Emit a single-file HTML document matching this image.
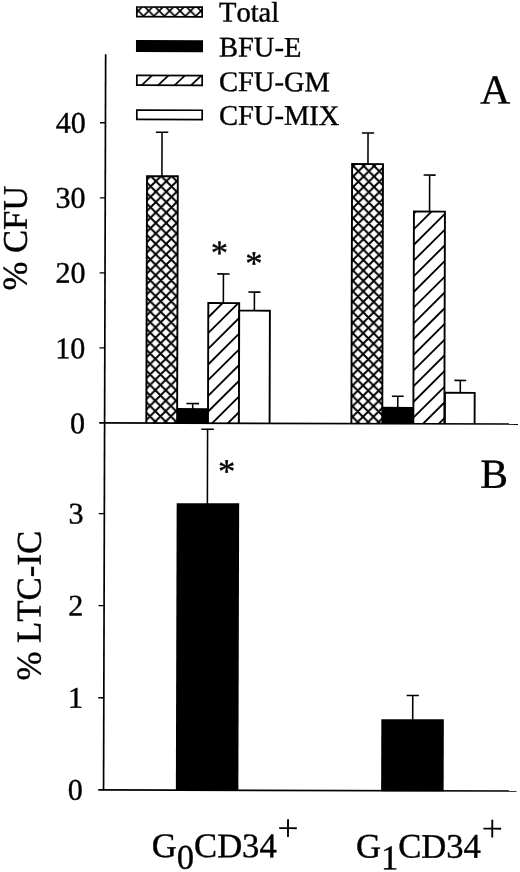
<!DOCTYPE html>
<html lang="en"><head><meta charset="utf-8"><title>CFU and LTC-IC chart</title>
<style>html,body{margin:0;padding:0;background:#fff;}body{width:520px;height:872px;overflow:hidden;}svg{display:block;}text{font-family:"Liberation Serif",serif;fill:#000;font-kerning:none;stroke:#000;stroke-width:0.4px;}</style>
</head><body>
<svg width="520" height="872" viewBox="0 0 520 872">
<rect width="520" height="872" fill="#fff"/>
<defs>
<pattern id="xh1" patternUnits="userSpaceOnUse" width="10.45" height="10.45" patternTransform="translate(155.19 181.04)"><rect width="10.45" height="10.45" fill="#fff"/><path d="M-1,-1 L11.45,11.45 M11.45,-1 L-1,11.45 M-11.45,-1 L1,11.45 M9.45,-1 L21.9,11.45 M-1,9.45 L11.45,21.9" stroke="#000" stroke-width="2.0" fill="none"/></pattern>
<pattern id="xh2" patternUnits="userSpaceOnUse" width="10.45" height="10.45" patternTransform="translate(362.94 165.25)"><rect width="10.45" height="10.45" fill="#fff"/><path d="M-1,-1 L11.45,11.45 M11.45,-1 L-1,11.45 M-11.45,-1 L1,11.45 M9.45,-1 L21.9,11.45 M-1,9.45 L11.45,21.9" stroke="#000" stroke-width="2.0" fill="none"/></pattern>
</defs>
<g transform="rotate(0.163 104.6 422.85)">
<path d="M161.22,175.84 V132.04 M155.02,132.04 H167.42" stroke="#000" stroke-width="1.55" fill="none"/>
<path d="M146.3,422.85 V176.09 H177.1 V422.85" fill="url(#xh1)" stroke="#000" stroke-width="1.9" stroke-linejoin="miter"/>
<path d="M192.65,408.75 V403.35 M186.35,403.35 H198.95" stroke="#000" stroke-width="1.55" fill="none"/>
<path d="M177.93,422.85 V408.8 H207.13 V422.85" fill="#000" stroke="#000" stroke-width="1.9" stroke-linejoin="miter"/>
<path d="M223.02,303.66 V273.56 M216.82,273.56 H229.22" stroke="#000" stroke-width="1.55" fill="none"/>
<path d="M207.97,422.85 V302.71 H238.87 V422.85" fill="#fff" stroke="#000" stroke-width="1.9" stroke-linejoin="miter"/>
<clipPath id="cg1"><rect x="207.82" y="302.56" width="31.2" height="120.29"/></clipPath><g clip-path="url(#cg1)" stroke="#000" stroke-width="1.85"><line x1="205.82" y1="303.46" x2="241.02" y2="268.26"/><line x1="205.82" y1="319.18" x2="241.02" y2="283.98"/><line x1="205.82" y1="334.9" x2="241.02" y2="299.7"/><line x1="205.82" y1="350.62" x2="241.02" y2="315.42"/><line x1="205.82" y1="366.34" x2="241.02" y2="331.14"/><line x1="205.82" y1="382.06" x2="241.02" y2="346.86"/><line x1="205.82" y1="397.78" x2="241.02" y2="362.58"/><line x1="205.82" y1="413.5" x2="241.02" y2="378.3"/><line x1="205.82" y1="429.22" x2="241.02" y2="394.02"/><line x1="205.82" y1="444.94" x2="241.02" y2="409.74"/><line x1="205.82" y1="460.66" x2="241.02" y2="425.46"/></g>
<path d="M254.05,310.57 V291.67 M247.95,291.67 H260.15" stroke="#000" stroke-width="1.55" fill="none"/>
<path d="M238.89,422.85 V310.22 H269.59 V422.85" fill="#fff" stroke="#000" stroke-width="1.9" stroke-linejoin="miter"/>
<path d="M367.22,163.75 V132.25 M361.12,132.25 H373.32" stroke="#000" stroke-width="1.55" fill="none"/>
<path d="M351.37,422.85 V163.3 H382.27 V422.85" fill="url(#xh2)" stroke="#000" stroke-width="1.9" stroke-linejoin="miter"/>
<path d="M397.73,407.16 V395.46 M391.83,395.46 H403.63" stroke="#000" stroke-width="1.55" fill="none"/>
<path d="M383.73,422.85 V407.01 H413.23 V422.85" fill="#000" stroke="#000" stroke-width="1.9" stroke-linejoin="miter"/>
<path d="M428.94,211.07 V174.17 M422.94,174.17 H434.94" stroke="#000" stroke-width="1.55" fill="none"/>
<path d="M413.34,422.85 V210.63 H444.34 V422.85" fill="#fff" stroke="#000" stroke-width="1.9" stroke-linejoin="miter"/>
<clipPath id="cg2"><rect x="413.19" y="210.48" width="31.3" height="212.37"/></clipPath><g clip-path="url(#cg2)" stroke="#000" stroke-width="1.85"><line x1="411.19" y1="214.6" x2="446.49" y2="179.3"/><line x1="411.19" y1="230.32" x2="446.49" y2="195.02"/><line x1="411.19" y1="246.04" x2="446.49" y2="210.74"/><line x1="411.19" y1="261.76" x2="446.49" y2="226.46"/><line x1="411.19" y1="277.48" x2="446.49" y2="242.18"/><line x1="411.19" y1="293.2" x2="446.49" y2="257.9"/><line x1="411.19" y1="308.92" x2="446.49" y2="273.62"/><line x1="411.19" y1="324.64" x2="446.49" y2="289.34"/><line x1="411.19" y1="340.36" x2="446.49" y2="305.06"/><line x1="411.19" y1="356.08" x2="446.49" y2="320.78"/><line x1="411.19" y1="371.8" x2="446.49" y2="336.5"/><line x1="411.19" y1="387.52" x2="446.49" y2="352.22"/><line x1="411.19" y1="403.24" x2="446.49" y2="367.94"/><line x1="411.19" y1="418.96" x2="446.49" y2="383.66"/><line x1="411.19" y1="434.68" x2="446.49" y2="399.38"/><line x1="411.19" y1="450.4" x2="446.49" y2="415.1"/></g>
<path d="M460.19,391.49 V379.39 M454.29,379.39 H466.09" stroke="#000" stroke-width="1.55" fill="none"/>
<path d="M444.9,422.85 V391.84 H474.6 V422.85" fill="#fff" stroke="#000" stroke-width="1.9" stroke-linejoin="miter"/>
<path d="M104.6,54.2 V790.6" stroke="#000" stroke-width="1.7" fill="none"/>
<path d="M99.2,422.85 H518" stroke="#000" stroke-width="1.7" fill="none"/>
<text x="85" y="433.35" font-size="30" text-anchor="end">0</text>
<path d="M99.2,347.83 H104.6" stroke="#000" stroke-width="1.3" fill="none"/>
<text x="85" y="358.33" font-size="30" text-anchor="end">10</text>
<path d="M99.2,272.81 H104.6" stroke="#000" stroke-width="1.3" fill="none"/>
<text x="85" y="282.91" font-size="30" text-anchor="end">20</text>
<path d="M99.2,197.79 H104.6" stroke="#000" stroke-width="1.3" fill="none"/>
<text x="85" y="207.89" font-size="30" text-anchor="end">30</text>
<path d="M99.2,122.77 H104.6" stroke="#000" stroke-width="1.3" fill="none"/>
<text x="85" y="132.87" font-size="30" text-anchor="end">40</text>
<path d="M207.61,503.71 V429.01 M201.31,429.01 H213.91" stroke="#000" stroke-width="1.55" fill="none"/>
<rect x="176.9" y="502.96" width="62.5" height="287.39" fill="#000"/>
<path d="M413.54,719.12 V694.62 M407.44,694.62 H419.64" stroke="#000" stroke-width="1.55" fill="none"/>
<rect x="382.18" y="718.37" width="62.5" height="71.98" fill="#000"/>
<path d="M99.25,789.85 H517.55" stroke="#000" stroke-width="1.7" fill="none"/>
<text x="83.9" y="799.85" font-size="30" text-anchor="end">0</text>
<path d="M99,697.75 H104.6" stroke="#000" stroke-width="1.3" fill="none"/>
<text x="83.9" y="707.75" font-size="30" text-anchor="end">1</text>
<path d="M99,605.65 H104.6" stroke="#000" stroke-width="1.3" fill="none"/>
<text x="83.9" y="615.65" font-size="30" text-anchor="end">2</text>
<path d="M99,513.55 H104.6" stroke="#000" stroke-width="1.3" fill="none"/>
<text x="83.9" y="523.55" font-size="30" text-anchor="end">3</text>
<text x="219" y="263.87" font-size="34.5" text-anchor="middle" font-family="Liberation Mono, monospace" stroke-width="0.9" stroke-linejoin="round">*</text>
<text x="253.43" y="274.37" font-size="34.5" text-anchor="middle" font-family="Liberation Mono, monospace" stroke-width="0.9" stroke-linejoin="round">*</text>
<text x="226.72" y="482.45" font-size="34.5" text-anchor="middle" font-family="Liberation Mono, monospace" stroke-width="0.9" stroke-linejoin="round">*</text>
<text x="479.29" y="102.53" font-size="41.5">A</text>
<text x="480.48" y="486.63" font-size="41.5">B</text>
<text transform="translate(26.22 290.62) rotate(-90)" font-size="34.6">% CFU</text>
<text transform="translate(41.13 680.78) rotate(-90)" font-size="34.8">% LTC-IC</text>
<pattern id="xhl" patternUnits="userSpaceOnUse" width="10.45" height="10.45" patternTransform="translate(137.1 10.69)"><rect width="10.45" height="10.45" fill="#fff"/><path d="M-1,-1 L11.45,11.45 M11.45,-1 L-1,11.45 M-11.45,-1 L1,11.45 M9.45,-1 L21.9,11.45 M-1,9.45 L11.45,21.9" stroke="#000" stroke-width="1.7" fill="none"/></pattern>
<rect x="135.66" y="6.91" width="65.33" height="9.66" fill="url(#xhl)" stroke="#000" stroke-width="1.7"/>
<text x="217.86" y="21.17" font-size="28.5">Total</text>
<rect x="135.76" y="40.76" width="65.34" height="10.41" fill="#000" stroke="#000" stroke-width="1.7"/>
<text x="217.96" y="56.17" font-size="28.5">BFU-E</text>
<rect x="135.86" y="75.26" width="65.33" height="9.81" fill="#fff" stroke="#000" stroke-width="1.7"/>
<clipPath id="clg"><rect x="135.81" y="75.21" width="65.43" height="9.91"/></clipPath><g clip-path="url(#clg)" stroke="#000" stroke-width="1.7"><line x1="133.81" y1="76.09" x2="203.24" y2="10.13"/><line x1="133.81" y1="91.69" x2="203.24" y2="25.73"/><line x1="133.81" y1="107.29" x2="203.24" y2="41.33"/><line x1="133.81" y1="122.89" x2="203.24" y2="56.93"/><line x1="133.81" y1="138.49" x2="203.24" y2="72.53"/></g>
<text x="218.05" y="90.67" font-size="28.5">CFU-GM</text>
<rect x="135.96" y="109.96" width="65.33" height="9.41" fill="#fff" stroke="#000" stroke-width="1.7"/>
<text x="218.15" y="124.37" font-size="28.5">CFU-MIX</text>
<text x="153.04" y="856.87" font-size="34.6">G<tspan dy="11.6">0</tspan><tspan dy="-11.6">CD34</tspan><tspan dy="-16.6" dx="0.6" font-size="38" stroke="none">+</tspan></text>
<text x="357.24" y="856.78" font-size="34.6">G<tspan dy="11.6">1</tspan><tspan dy="-11.6">CD34</tspan><tspan dy="-16.6" dx="0.6" font-size="38" stroke="none">+</tspan></text>
</g></svg></body></html>
